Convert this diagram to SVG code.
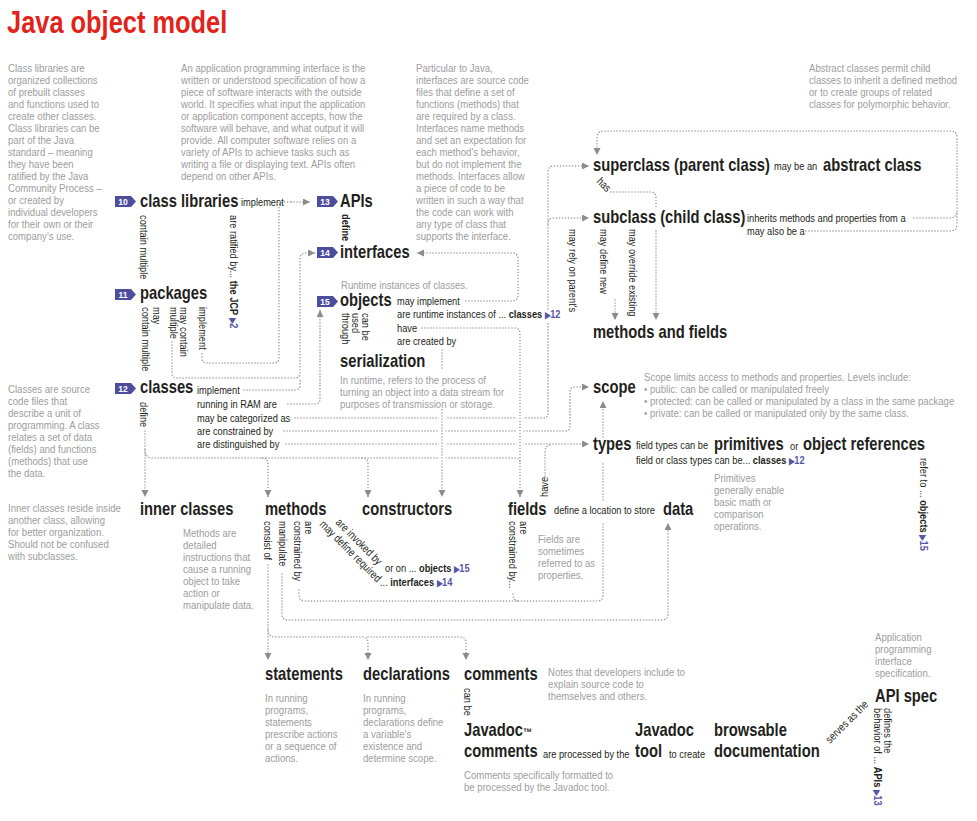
<svg xmlns="http://www.w3.org/2000/svg" width="977" height="821" viewBox="0 0 977 821">
<style>
text{font-family:"Liberation Sans",Arial,sans-serif}
.n{font-weight:bold;font-size:18px;fill:#231f20}
.l{font-size:11.3px;fill:#231f20}
.g{font-size:11.7px;fill:#9d9d9d}
.bb{font-weight:bold}
.r{fill:#5656a6;font-weight:bold}
.tr{font-size:8.5px}
.c{fill:none;stroke:#9a9a9a;stroke-width:1.6;stroke-dasharray:0 3;stroke-linecap:round}
.h{fill:none;stroke:#fff;stroke-width:7}
.bd{fill:#4d4d9e}
.bn{font-size:8.5px;font-weight:bold;fill:#fff;text-anchor:middle}
</style>
<defs>
<marker id="a" markerUnits="userSpaceOnUse" markerWidth="8" markerHeight="8" refX="7" refY="3.5" orient="auto"><path d="M0,0 L7,3.5 L0,7 z" fill="#8c8c8c"/></marker>
</defs>
<rect width="977" height="821" fill="#fff"/>
<text transform="translate(7,33) scale(.82,1)" style="font-size:31px;font-weight:bold;fill:#e2231a">Java object model</text>

<g id="notes">
<text class="g" transform="translate(8,72) scale(.82,1)">Class libraries are<tspan x="0" dy="12">organized collections</tspan><tspan x="0" dy="12">of prebuilt classes</tspan><tspan x="0" dy="12">and functions used to</tspan><tspan x="0" dy="12">create other classes.</tspan><tspan x="0" dy="12">Class libraries can be</tspan><tspan x="0" dy="12">part of the Java</tspan><tspan x="0" dy="12">standard – meaning</tspan><tspan x="0" dy="12">they have been</tspan><tspan x="0" dy="12">ratified by the Java</tspan><tspan x="0" dy="12">Community Process –</tspan><tspan x="0" dy="12">or created by</tspan><tspan x="0" dy="12">individual developers</tspan><tspan x="0" dy="12">for their own or their</tspan><tspan x="0" dy="12">company's use.</tspan></text>
<text class="g" transform="translate(181,72) scale(.82,1)">An application programming interface is the<tspan x="0" dy="12">written or understood specification of how a</tspan><tspan x="0" dy="12">piece of software interacts with the outside</tspan><tspan x="0" dy="12">world. It specifies what input the application</tspan><tspan x="0" dy="12">or application component accepts, how the</tspan><tspan x="0" dy="12">software will behave, and what output it will</tspan><tspan x="0" dy="12">provide. All computer software relies on a</tspan><tspan x="0" dy="12">variety of APIs to achieve tasks such as</tspan><tspan x="0" dy="12">writing a file or displaying text. APIs often</tspan><tspan x="0" dy="12">depend on other APIs.</tspan></text>
<text class="g" transform="translate(416,72) scale(.82,1)">Particular to Java,<tspan x="0" dy="12">interfaces are source code</tspan><tspan x="0" dy="12">files that define a set of</tspan><tspan x="0" dy="12">functions (methods) that</tspan><tspan x="0" dy="12">are required by a class.</tspan><tspan x="0" dy="12">Interfaces name methods</tspan><tspan x="0" dy="12">and set an expectation for</tspan><tspan x="0" dy="12">each method's behavior,</tspan><tspan x="0" dy="12">but do not implement the</tspan><tspan x="0" dy="12">methods. Interfaces allow</tspan><tspan x="0" dy="12">a piece of code to be</tspan><tspan x="0" dy="12">written in such a way that</tspan><tspan x="0" dy="12">the code can work with</tspan><tspan x="0" dy="12">any type of class that</tspan><tspan x="0" dy="12">supports the interface.</tspan></text>
<text class="g" transform="translate(809,72) scale(.82,1)">Abstract classes permit child<tspan x="0" dy="12">classes to inherit a defined method</tspan><tspan x="0" dy="12">or to create groups of related</tspan><tspan x="0" dy="12">classes for polymorphic behavior.</tspan></text>
<text class="g" transform="translate(8,393) scale(.82,1)">Classes are source<tspan x="0" dy="12">code files that</tspan><tspan x="0" dy="12">describe a unit of</tspan><tspan x="0" dy="12">programming. A class</tspan><tspan x="0" dy="12">relates a set of data</tspan><tspan x="0" dy="12">(fields) and functions</tspan><tspan x="0" dy="12">(methods) that use</tspan><tspan x="0" dy="12">the data.</tspan></text>
<text class="g" transform="translate(8,512) scale(.82,1)">Inner classes reside inside<tspan x="0" dy="12">another class, allowing</tspan><tspan x="0" dy="12">for better organization.</tspan><tspan x="0" dy="12">Should not be confused</tspan><tspan x="0" dy="12">with subclasses.</tspan></text>
<text class="g" transform="translate(341,289) scale(.82,1)">Runtime instances of classes.</text>
<text class="g" transform="translate(340,384) scale(.82,1)">In runtime, refers to the process of<tspan x="0" dy="12">turning an object into a data stream for</tspan><tspan x="0" dy="12">purposes of transmission or storage.</tspan></text>
<text class="g" transform="translate(644,381) scale(.82,1)">Scope limits access to methods and properties. Levels include:<tspan x="0" dy="12">• public: can be called or manipulated freely</tspan><tspan x="0" dy="12">• protected: can be called or manipulated by a class in the same package</tspan><tspan x="0" dy="12">• private: can be called or manipulated only by the same class.</tspan></text>
<text class="g" transform="translate(714,482) scale(.82,1)">Primitives<tspan x="0" dy="12">generally enable</tspan><tspan x="0" dy="12">basic math or</tspan><tspan x="0" dy="12">comparison</tspan><tspan x="0" dy="12">operations.</tspan></text>
<text class="g" transform="translate(183,537) scale(.82,1)">Methods are<tspan x="0" dy="12">detailed</tspan><tspan x="0" dy="12">instructions that</tspan><tspan x="0" dy="12">cause a running</tspan><tspan x="0" dy="12">object to take</tspan><tspan x="0" dy="12">action or</tspan><tspan x="0" dy="12">manipulate data.</tspan></text>
<text class="g" transform="translate(538,543) scale(.82,1)">Fields are<tspan x="0" dy="12">sometimes</tspan><tspan x="0" dy="12">referred to as</tspan><tspan x="0" dy="12">properties.</tspan></text>
<text class="g" transform="translate(265,702) scale(.82,1)">In running<tspan x="0" dy="12">programs,</tspan><tspan x="0" dy="12">statements</tspan><tspan x="0" dy="12">prescribe actions</tspan><tspan x="0" dy="12">or a sequence of</tspan><tspan x="0" dy="12">actions.</tspan></text>
<text class="g" transform="translate(363,702) scale(.82,1)">In running<tspan x="0" dy="12">programs,</tspan><tspan x="0" dy="12">declarations define</tspan><tspan x="0" dy="12">a variable's</tspan><tspan x="0" dy="12">existence and</tspan><tspan x="0" dy="12">determine scope.</tspan></text>
<text class="g" transform="translate(548,676) scale(.82,1)">Notes that developers include to<tspan x="0" dy="12">explain source code to</tspan><tspan x="0" dy="12">themselves and others.</tspan></text>
<text class="g" transform="translate(464,779) scale(.82,1)">Comments specifically formatted to<tspan x="0" dy="12">be processed by the Javadoc tool.</tspan></text>
<text class="g" transform="translate(875,641) scale(.82,1)">Application<tspan x="0" dy="12">programming</tspan><tspan x="0" dy="12">interface</tspan><tspan x="0" dy="12">specification.</tspan></text>
</g>

<g id="connectors">
<path class="c" d="M291,202 H310" marker-end="url(#a)"/>
<path class="c" d="M202,354 V358 Q202,363 207,363 H274 Q279,363 279,358 V208 Q279,202 285,202 H291"/>
<path class="c" d="M172,342 V373 Q172,378 177,378 H295 Q300,378 300,373 V259 Q300,253 306,253 H315" marker-end="url(#a)"/>
<path class="c" d="M244,390 H295 Q300,390 300,385 V378"/>
<path class="c" d="M288,404 H315 Q320,404 320,399 V310" marker-end="url(#a)"/>
<path class="c" d="M295,418 H543 Q548,418 548,413 V323 M548,309 V172 Q548,166 554,166 H589" marker-end="url(#a)"/>
<path class="c" d="M548,224 Q548,218 554,218 H589" marker-end="url(#a)"/>
<path class="c" d="M284,431 H565 Q570,431 570,426 V392 Q570,387 575,387 H589" marker-end="url(#a)"/>
<path class="c" d="M286,444 H589" marker-end="url(#a)"/>
<path class="c" d="M545,476 V452 Q545,445 552,445"/>
<path class="c" d="M145,431 V497" marker-end="url(#a)"/>
<path class="c" d="M145,450 Q145,458 152,458 H515 Q520,458 520,463"/>
<path class="c" d="M262,458 Q268,458 268,464 V497" marker-end="url(#a)"/>
<path class="c" d="M362,458 Q368,458 368,464 V497" marker-end="url(#a)"/>
<path class="h" d="M442,411 V463 M520,411 V452"/>
<path class="c" d="M442,350 V371 M442,410 V497" marker-end="url(#a)"/>
<path class="c" d="M422,328 H514 Q520,328 520,334 V497" marker-end="url(#a)"/>
<path class="c" d="M466,301 H512 Q518,301 518,295 V259 Q518,253 512,253 H417" marker-end="url(#a)"/>
<path class="c" d="M806,231 H950 Q957,231 957,224 V138 Q957,131 950,131 H604 Q597,131 597,138 V155" marker-end="url(#a)"/>
<path class="c" d="M914,218 H950 Q957,218 957,211"/>
<path class="c" d="M611,192 H650 Q656,192 656,198 V207 M656,231 V320" marker-end="url(#a)"/>
<path class="c" d="M615,300 V320" marker-end="url(#a)"/>
<path class="c" d="M268,565 V660" marker-end="url(#a)"/>
<path class="c" d="M268,630 Q268,637 275,637 H362 Q368,637 368,643 V660" marker-end="url(#a)"/>
<path class="c" d="M368,637 H460 Q466,637 466,643 V660" marker-end="url(#a)"/>
<path class="c" d="M282,574 V614 Q282,620 288,620 H662 Q668,620 668,614 V523" marker-end="url(#a)"/>
<path class="c" d="M299,590 V595 Q299,601 305,601 H597 Q603,601 603,595 V521 M603,500 V462 M603,437 V401" marker-end="url(#a)"/>
<path class="c" d="M513,594 Q513,601 519,601"/>
</g>

<g id="n10">
<path class="bd" d="M115,196 h16 l5,5.5 l-5,5.5 h-16 z"/><text class="bn" x="123" y="204.5">10</text>
<text class="n" transform="translate(140,207) scale(.82,1)">class libraries</text>
<text class="l" transform="translate(241,206) scale(.82,1)">implement</text>
<text class="l" transform="translate(140,215) rotate(90) scale(.82,1)">contain multiple</text>
<text class="l" transform="translate(230,215) rotate(90) scale(.82,1)">are ratified by... <tspan class="bb">the JCP</tspan> <tspan class="r"><tspan class="tr">▶</tspan>2</tspan></text>
</g>
<g id="n13">
<path class="bd" d="M317,196 h16 l5,5.5 l-5,5.5 h-16 z"/><text class="bn" x="325" y="204.5">13</text>
<text class="n" transform="translate(340,207) scale(.82,1)">APIs</text>
<text class="l bb" transform="translate(342,214) rotate(90) scale(.82,1)">define</text>
</g>
<g id="n14">
<path class="bd" d="M317,247 h16 l5,5.5 l-5,5.5 h-16 z"/><text class="bn" x="325" y="255.5">14</text>
<text class="n" transform="translate(340,258) scale(.82,1)">interfaces</text>
</g>
<g id="n11">
<path class="bd" d="M115,289 h16 l5,5.5 l-5,5.5 h-16 z"/><text class="bn" x="123" y="297.5">11</text>
<text class="n" transform="translate(140,299) scale(.82,1)">packages</text>
<text class="l" transform="translate(152.5,307) rotate(90) scale(.82,1)">may<tspan x="0" dy="10.5">contain multiple</tspan></text>
<text class="l" transform="translate(180,307) rotate(90) scale(.82,1)">may contain<tspan x="0" dy="10.5">multiple</tspan></text>
<text class="l" transform="translate(199,307) rotate(90) scale(.82,1)">implement</text>
</g>
<g id="n12">
<path class="bd" d="M115,383 h16 l5,5.5 l-5,5.5 h-16 z"/><text class="bn" x="123" y="391.5">12</text>
<text class="n" transform="translate(140,393) scale(.82,1)">classes</text>
<text class="l" transform="translate(197,394) scale(.82,1)">implement</text>
<text class="l" transform="translate(197,408) scale(.82,1)">running in RAM are</text>
<text class="l" transform="translate(197,422) scale(.82,1)">may be categorized as</text>
<text class="l" transform="translate(197,435) scale(.82,1)">are constrained by</text>
<text class="l" transform="translate(197,448) scale(.82,1)">are distinguished by</text>
<text class="l" transform="translate(140,402) rotate(90) scale(.82,1)">define</text>
</g>
<g id="n15">
<path class="bd" d="M317,296 h16 l5,5.5 l-5,5.5 h-16 z"/><text class="bn" x="325" y="304.5">15</text>
<text class="n" transform="translate(340,306) scale(.82,1)">objects</text>
<text class="l" transform="translate(397,305) scale(.82,1)">may implement</text>
<text class="l" transform="translate(397,318) scale(.82,1)">are runtime instances of ... <tspan class="bb">classes</tspan> <tspan class="r"><tspan class="tr">▶</tspan>12</tspan></text>
<text class="l" transform="translate(397,332) scale(.82,1)">have</text>
<text class="l" transform="translate(397,345) scale(.82,1)">are created by</text>
<text class="l" transform="translate(362,313) rotate(90) scale(.82,1)">can be<tspan x="0" dy="10">used</tspan><tspan x="0" dy="10">through</tspan></text>
</g>
<g id="serialization"><text class="n" transform="translate(340,367) scale(.82,1)">serialization</text></g>
<g id="superclass">
<text class="n" transform="translate(593,171) scale(.82,1)">superclass (parent class)</text>
<text class="l" transform="translate(774,170) scale(.82,1)">may be an</text>
<text class="l" transform="translate(596,182) rotate(45) scale(.82,1)">has</text>
</g>
<g id="abstract"><text class="n" transform="translate(823,171) scale(.82,1)">abstract class</text></g>
<g id="subclass">
<text class="n" transform="translate(593,223) scale(.82,1)">subclass (child class)</text>
<text class="l" transform="translate(747,222) scale(.82,1)">inherits methods and properties from a</text>
<text class="l" transform="translate(747,235) scale(.82,1)">may also be a</text>
<text class="l" transform="translate(569,229) rotate(90) scale(.82,1)">may rely on parent's</text>
<text class="l" transform="translate(600,229) rotate(90) scale(.82,1)">may define new</text>
<text class="l" transform="translate(629,229) rotate(90) scale(.82,1)">may override existing</text>
</g>
<g id="methodsfields"><text class="n" transform="translate(593,338) scale(.82,1)">methods and fields</text></g>
<g id="scope"><text class="n" transform="translate(593,393) scale(.82,1)">scope</text></g>
<g id="types">
<text class="n" transform="translate(593,450) scale(.82,1)">types</text>
<text class="l" transform="translate(636,449) scale(.82,1)">field types can be</text>
<text class="l" transform="translate(636,464) scale(.82,1)">field or class types can be... <tspan class="bb">classes</tspan> <tspan class="r"><tspan class="tr">▶</tspan>12</tspan></text>
</g>
<g id="primitives"><text class="n" transform="translate(714,450) scale(.82,1)">primitives</text><text class="l" transform="translate(790,450) scale(.82,1)">or</text></g>
<g id="objrefs">
<text class="n" transform="translate(803,450) scale(.82,1)">object references</text>
<text class="l" transform="translate(920,458) rotate(90) scale(.82,1)">refer to ... <tspan class="bb">objects</tspan> <tspan class="r"><tspan class="tr">▶</tspan>15</tspan></text>
</g>
<g id="innerclasses"><text class="n" transform="translate(140,515) scale(.82,1)">inner classes</text></g>
<g id="methods">
<text class="n" transform="translate(265,515) scale(.82,1)">methods</text>
<text class="l" transform="translate(264,521) rotate(90) scale(.82,1)">consist of</text>
<text class="l" transform="translate(279,521) rotate(90) scale(.82,1)">manipulate</text>
<text class="l" transform="translate(305,521) rotate(90) scale(.82,1)">are<tspan x="0" dy="11">constrained by</tspan></text>
<text class="l" transform="translate(335,523) rotate(45) scale(.82,1)">are invoked by</text>
<text class="l" transform="translate(319,525) rotate(45) scale(.82,1)">may define required</text>
<text class="l" transform="translate(385,572) scale(.82,1)">or on ... <tspan class="bb">objects</tspan> <tspan class="r"><tspan class="tr">▶</tspan>15</tspan></text>
<text class="l" transform="translate(380,586) scale(.82,1)">... <tspan class="bb">interfaces</tspan> <tspan class="r"><tspan class="tr">▶</tspan>14</tspan></text>
</g>
<g id="constructors"><text class="n" transform="translate(362,515) scale(.82,1)">constructors</text></g>
<g id="fields">
<text class="n" transform="translate(508,515) scale(.82,1)">fields</text>
<text class="l" transform="translate(554,514) scale(.82,1)">define a location to store</text>
<text class="l" transform="translate(520,521) rotate(90) scale(.82,1)">are<tspan x="0" dy="11">constrained by...</tspan></text>
<text class="l" transform="translate(548,497) rotate(-90) scale(.82,1)">have</text>
</g>
<g id="data"><text class="n" transform="translate(663,515) scale(.82,1)">data</text></g>
<g id="statements"><text class="n" transform="translate(265,680) scale(.82,1)">statements</text></g>
<g id="declarations"><text class="n" transform="translate(363,680) scale(.82,1)">declarations</text></g>
<g id="comments">
<text class="n" transform="translate(464,680) scale(.82,1)">comments</text>
<text class="l" transform="translate(464,688) rotate(90) scale(.82,1)">can be</text>
</g>
<g id="javadoccomments">
<text class="n" transform="translate(464,736) scale(.82,1)">Javadoc<tspan style="font-size:11px">™</tspan></text>
<text class="n" transform="translate(464,757) scale(.82,1)">comments</text>
<text class="l" transform="translate(543,758) scale(.82,1)">are processed by the</text>
</g>
<g id="javadoctool">
<text class="n" transform="translate(635,736) scale(.82,1)">Javadoc</text>
<text class="n" transform="translate(635,757) scale(.82,1)">tool</text>
<text class="l" transform="translate(669,758) scale(.82,1)">to create</text>
</g>
<g id="documentation">
<text class="n" transform="translate(714,736) scale(.82,1)">browsable</text>
<text class="n" transform="translate(714,757) scale(.82,1)">documentation</text>
<text class="l" transform="translate(830,744) rotate(-45) scale(.82,1)">serves as the</text>
</g>
<g id="apispec">
<text class="n" transform="translate(875,702) scale(.82,1)">API spec</text>
<text class="l" transform="translate(884,708) rotate(90) scale(.82,1)">defines the<tspan x="0" dy="10">behavior of ... <tspan class="bb">APIs</tspan> <tspan class="r"><tspan class="tr">▶</tspan>13</tspan></tspan></text>
</g>
</svg>
